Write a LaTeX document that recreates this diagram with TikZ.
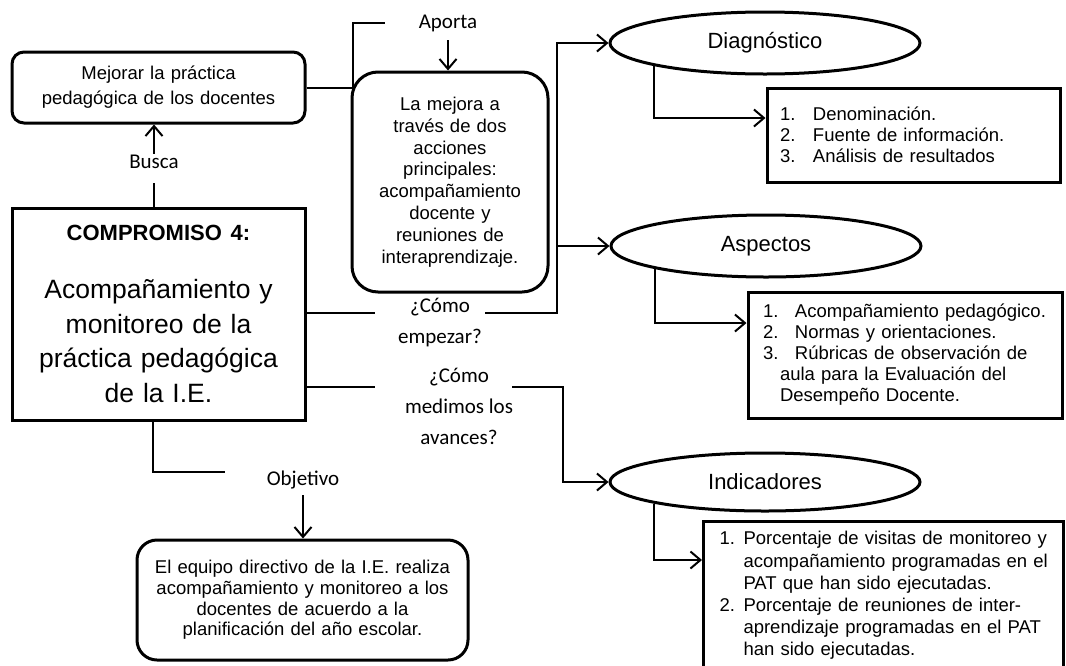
\documentclass[tikz,border=0pt]{standalone}
\usepackage{fontspec}
\setmainfont{Liberation Sans}
\newfontfamily\labfont{Carlito}
\usetikzlibrary{shapes.geometric,arrows.meta}
\newcommand{\fs}[2]{\fontsize{#1}{#2}\selectfont}
\begin{document}
\begin{tikzpicture}[x=1pt,y=-1pt,
  bx/.style={draw, line width=3pt, inner sep=0pt},
  oval/.style={ellipse, draw, line width=3pt, minimum width=310pt, minimum height=62pt, inner sep=0pt, font=\fs{22}{26}},
  labone/.style={font=\labfont\fs{21}{31}, inner sep=0pt, text height=14pt, text depth=4pt},
  labmulti/.style={font=\labfont\fs{21}{31}, inner sep=0pt, align=center},
  conn/.style={line width=2pt},
  arr/.style={line width=2pt, -{Straight Barb[length=10pt,width=17pt]}}]
\fill[white] (0,0) rectangle (1066,665);
\useasboundingbox (0,0) rectangle (1066,665);

% main boxes
\node[bx, rounded corners=12pt, text width=293pt, minimum height=71pt, align=center, font=\fs{18.5}{25}] (mej) at (158.5,87.5)
  {Mejorar la práctica\\pedagógica de los docentes};
\node[bx, text width=293pt, minimum height=212pt, align=center, font=\fs{26.5}{34.7}] (comp) at (158.5,314)
  {{\fs{22}{25}\bfseries COMPROMISO 4:}\\[23pt]Acompañamiento y\\monitoreo de la\\práctica pedagógica\\de la I.E.};
\node[bx, rounded corners=26pt, text width=196pt, minimum height=220pt, align=center, font=\fs{18.5}{21.8}] (mejora) at (450,182)
  {La mejora a\\través de dos\\acciones\\principales:\\acompañamiento\\docente y\\reuniones de\\interaprendizaje.};
\node[bx, rounded corners=20pt, text width=331pt, minimum height=120pt, align=center, font=\fs{18.5}{20.8}] (objb) at (302.5,600)
  {El equipo directivo de la I.E. realiza\\acompañamiento y monitoreo a los\\docentes de acuerdo a la\\planificación del año escolar.};

% ellipses
\node[oval] (diag) at (765,43) {Diagnóstico};
\node[oval] (asp) at (766,246) {Aspectos};
\node[oval, minimum height=58pt] (ind) at (765,482) {Indicadores};

% list boxes
\node[bx, text width=293pt, minimum height=94pt, align=left, font=\fs{18.5}{21}] (dbox) at (913.5,135)
  {\hspace*{13pt}\makebox[33pt][l]{1.}Denominación.\\
   \hspace*{13pt}\makebox[33pt][l]{2.}Fuente de información.\\
   \hspace*{13pt}\makebox[33pt][l]{3.}Análisis de resultados};
\node[bx, text width=314pt, minimum height=126pt, align=left, font=\fs{18.5}{21}] (abox) at (905,355)
  {\hspace*{15pt}\makebox[32pt][l]{1.}Acompañamiento pedagógico.\\
   \hspace*{15pt}\makebox[32pt][l]{2.}Normas y orientaciones.\\
   \hspace*{15pt}\makebox[32pt][l]{3.}Rúbricas de observación de\\
   \hspace*{32pt}aula para la Evaluación del\\
   \hspace*{32pt}Desempeño Docente.};
\node[bx, anchor=north west, text width=360pt, inner ysep=10pt, text depth=140pt, align=left, font=\fs{18.5}{22.2}] (ibox) at (702,520)
  {\hspace*{16pt}\makebox[24pt][l]{1.}Porcentaje de visitas de monitoreo y\\
   \hspace*{40pt}acompañamiento programadas en el\\
   \hspace*{40pt}PAT que han sido ejecutadas.\\
   \hspace*{16pt}\makebox[24pt][l]{2.}Porcentaje de reuniones de inter-\\
   \hspace*{40pt}aprendizaje programadas en el PAT\\
   \hspace*{40pt}han sido ejecutadas.};

% labels
\node[labone] (aporta) at (448,23) {Aporta};
\node[labone] (busca) at (154,163) {Busca};
\node[labmulti] (emp) at (440,322.5) {¿Cómo\\empezar?};
\node[labmulti] (med) at (459,406) {¿Cómo\\medimos los\\avances?};
\node[labone] (objl) at (303,480) {Objetivo};

% helper coordinates
\coordinate (e1) at (375,313);
\coordinate (e2) at (485,313);
\coordinate (j1) at (557,313);
\coordinate (m1) at (375,387);
\coordinate (m2) at (512,387);
\coordinate (j2) at (563,387);
\coordinate (o1) at (153,472);
\coordinate (o2) at (225,472);

% connectors
\draw[conn, shorten >=11pt] (busca |- comp.north) -- (busca.south);
\draw[arr] (busca.north) -- (busca |- mej.south);
\draw[conn, shorten >=34pt] (mej.east) -- ++(46,0) |- (aporta.west);
\draw[arr, shorten <=8pt] (aporta.south) -- (aporta |- mejora.north);

\draw[conn] (comp.east |- e1) -- (e1);
\draw[arr] (e2) -- (j1) |- (diag.west);
\draw[arr] (j1 |- asp.west) -- (asp.west);

\draw[conn] (comp.east |- m1) -- (m1);
\draw[arr] (m2) -- (j2) |- (ind.west);

\draw[conn] (o1 |- comp.south) -- (o1) -- (o2);
\draw[arr, shorten <=6pt] (objl.south) -- (objl |- objb.north);

\draw[arr] (diag.south west) |- (dbox.west |- 0,118);
\draw[arr] (asp.south west) |- (abox.west |- 0,323);
\draw[arr] (ind.south west) |- (ibox.west |- 0,560);
\end{tikzpicture}
\end{document}
